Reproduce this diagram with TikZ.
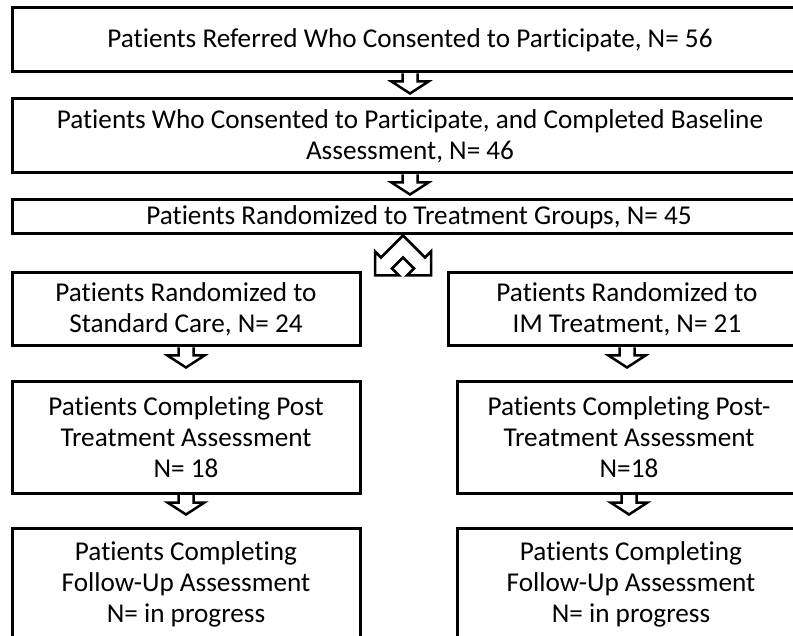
\documentclass[tikz,border=0pt]{standalone}
\usepackage{fontspec}
\setmainfont[Ligatures=NoCommon]{Carlito}
\usetikzlibrary{calc}
\tikzset{
  every picture/.style={line width=3pt},
  box/.style={draw, rectangle, align=center, inner sep=0pt, font=\fontsize{27.2}{31}\selectfont},
  blockarrow/.style={draw, line width=2.5pt, line join=miter},
  pics/downarrow/.style={code={
    \draw[blockarrow] (-7.5,0) -- (-7.5,8) -- (-18.5,8) -- (0,20) -- (18.5,8) -- (7.5,8) -- (7.5,0);
  }},
  pics/splitarrow/.style={code={
    \draw[blockarrow] (0,0) -- (22,22) -- (28,16) -- (28,40) -- (4,40) -- (11,33) -- (0,22)
      -- (-11,33) -- (-4,40) -- (-28,40) -- (-28,16) -- (-22,22) -- cycle;
  }},
}

\begin{document}
\begin{tikzpicture}[x=1pt, y=-1pt]
  \useasboundingbox (0,0) rectangle (793,636);
  % common trunk
  \node[box, minimum width=796pt, minimum height=64pt] (referred) at (410,40)
    {Patients Referred Who Consented to Participate, N= 56};
  \node[box, minimum width=796pt, minimum height=74pt] (baseline) at (410,136)
    {Patients Who Consented to Participate, and Completed Baseline\\Assessment, N= 46};
  \node[box, minimum width=814pt, minimum height=34pt] (randomized) at (419,217)
    {Patients Randomized to Treatment Groups, N= 45};
  \pic at (referred.south) {downarrow};
  \pic at (baseline.south) {downarrow};
  \pic at ([xshift=-16pt]randomized.south) {splitarrow};
  % standard care arm
  \node[box, minimum width=348pt, minimum height=73pt] (stdcare) at (186,309.5)
    {Patients Randomized to\\Standard Care, N= 24};
  \node[box, minimum width=348pt, minimum height=111pt] (stdpost) at (186,437.5)
    {Patients Completing Post\\Treatment Assessment\\N= 18};
  \node[box, minimum width=348pt, minimum height=112pt] (stdfollow) at (186,584)
    {Patients Completing\\Follow-Up Assessment\\N= in progress};
  % IM treatment arm
  \node[box, minimum width=358pt, minimum height=73pt] (imtreat) at (627,309.5)
    {Patients Randomized to\\IM Treatment, N= 21};
  \node[box, minimum width=344pt, minimum height=111pt] (impost) at (629,437.5)
    {Patients Completing Post-\\Treatment Assessment\\N=18};
  \node[box, minimum width=348pt, minimum height=112pt] (imfollow) at (631,584)
    {Patients Completing\\Follow-Up Assessment\\N= in progress};
  \foreach \a in {stdcare, stdpost, imtreat, impost}
    \pic at (\a.south) {downarrow};
\end{tikzpicture}
\end{document}
